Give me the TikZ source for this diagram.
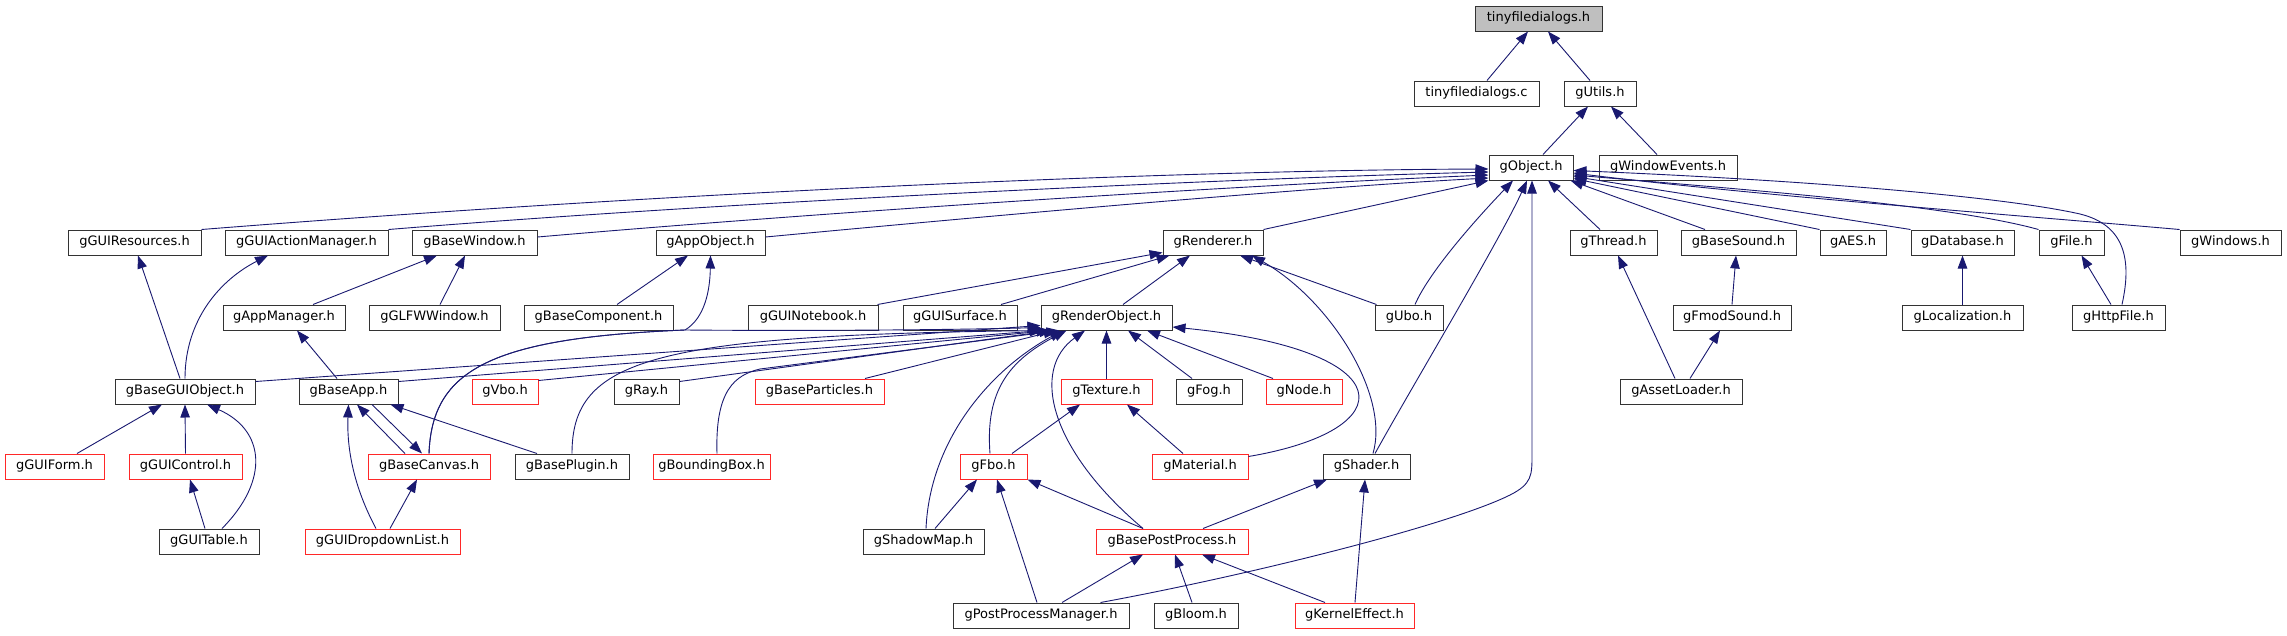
\documentclass[tikz,border=0pt]{standalone}
\usepackage{fontspec}
\setmainfont{DejaVu Sans}
\usetikzlibrary{arrows.meta,calc}
\definecolor{edgec}{RGB}{25,25,112}
\definecolor{trunc}{RGB}{255,40,40}
\begin{document}
\begin{tikzpicture}[x=1pt,y=-1pt,
  nb/.style={draw=black!80, line width=1pt, minimum height=25pt, inner sep=0pt,
             text height=9.5pt, text depth=3pt, font=\fontsize{13}{15}\selectfont},
  nr/.style={nb, draw=trunc},
  root/.style={nb, fill=black!25},
  e/.style={draw=edgec, line width=0.9pt, -{Triangle[length=13pt,width=9.5pt]}}]
\useasboundingbox (0,0) rectangle (2287,635);
% row 0-2
\node[root,minimum width=127] (tfh) at (1538.5,18.5) {tinyfiledialogs.h};
\node[nb,minimum width=125] (tfc) at (1476.5,93.5) {tinyfiledialogs.c};
\node[nb,minimum width=72] (gUtils) at (1600,93.5) {gUtils.h};
\node[nb,minimum width=84] (gObject) at (1531,167.5) {gObject.h};
\node[nb,minimum width=138] (gWE) at (1668,167.5) {gWindowEvents.h};
% row 3
\node[nb,minimum width=133] (gGUIRes) at (134.5,242.5) {gGUIResources.h};
\node[nb,minimum width=163] (gGUIAM) at (306.5,242.5) {gGUIActionManager.h};
\node[nb,minimum width=125] (gBaseWindow) at (474.5,242.5) {gBaseWindow.h};
\node[nb,minimum width=109] (gAppObject) at (710.5,242.5) {gAppObject.h};
\node[nb,minimum width=100] (gRenderer) at (1213,242.5) {gRenderer.h};
\node[nb,minimum width=87] (gThread) at (1613.5,242.5) {gThread.h};
\node[nb,minimum width=115] (gBaseSound) at (1738.5,242.5) {gBaseSound.h};
\node[nb,minimum width=66] (gAES) at (1853,242.5) {gAES.h};
\node[nb,minimum width=103] (gDatabase) at (1962.5,242.5) {gDatabase.h};
\node[nb,minimum width=65] (gFile) at (2071.5,242.5) {gFile.h};
\node[nb,minimum width=101] (gWindows) at (2230.5,242.5) {gWindows.h};
% row 4
\node[nb,minimum width=122] (gAppManager) at (284,317.5) {gAppManager.h};
\node[nb,minimum width=131] (gLFW) at (434.5,317.5) {gGLFWWindow.h};
\node[nb,minimum width=149] (gBaseComp) at (598.5,317.5) {gBaseComponent.h};
\node[nb,minimum width=130] (gGUINotebook) at (813,317.5) {gGUINotebook.h};
\node[nb,minimum width=114] (gGUISurface) at (960,317.5) {gGUISurface.h};
\node[nb,minimum width=131] (gRO) at (1106.5,317.5) {gRenderObject.h};
\node[nb,minimum width=68] (gUbo) at (1409,317.5) {gUbo.h};
\node[nb,minimum width=118] (gFmod) at (1732,317.5) {gFmodSound.h};
\node[nb,minimum width=121] (gLoc) at (1962.5,317.5) {gLocalization.h};
\node[nb,minimum width=93] (gHttp) at (2118.5,317.5) {gHttpFile.h};
% row 5
\node[nb,minimum width=140] (gBGO) at (185,391.5) {gBaseGUIObject.h};
\node[nb,minimum width=99] (gBaseApp) at (348.5,391.5) {gBaseApp.h};
\node[nr,minimum width=66] (gVbo) at (505,391.5) {gVbo.h};
\node[nb,minimum width=65] (gRay) at (646.5,391.5) {gRay.h};
\node[nr,minimum width=129] (gBPart) at (819.5,391.5) {gBaseParticles.h};
\node[nr,minimum width=91] (gTexture) at (1106.5,391.5) {gTexture.h};
\node[nb,minimum width=66] (gFog) at (1209,391.5) {gFog.h};
\node[nr,minimum width=76] (gNode) at (1304,391.5) {gNode.h};
\node[nb,minimum width=122] (gAsset) at (1681,391.5) {gAssetLoader.h};
% row 6
\node[nr,minimum width=99] (gGUIForm) at (54.5,466.5) {gGUIForm.h};
\node[nr,minimum width=113] (gGUIControl) at (185.5,466.5) {gGUIControl.h};
\node[nr,minimum width=122] (gBaseCanvas) at (429,466.5) {gBaseCanvas.h};
\node[nb,minimum width=114] (gBasePlugin) at (572,466.5) {gBasePlugin.h};
\node[nr,minimum width=117] (gBBox) at (711.5,466.5) {gBoundingBox.h};
\node[nr,minimum width=67] (gFbo) at (993.5,466.5) {gFbo.h};
\node[nr,minimum width=96] (gMaterial) at (1200,466.5) {gMaterial.h};
\node[nb,minimum width=87] (gShader) at (1366.5,466.5) {gShader.h};
% row 7
\node[nb,minimum width=100] (gGUITable) at (209,541.5) {gGUITable.h};
\node[nr,minimum width=155] (gGDL) at (382.5,541.5) {gGUIDropdownList.h};
\node[nb,minimum width=121] (gShadow) at (923.5,541.5) {gShadowMap.h};
\node[nr,minimum width=152] (gBPP) at (1172,541.5) {gBasePostProcess.h};
% row 8
\node[nb,minimum width=176] (gPPM) at (1041,615.5) {gPostProcessManager.h};
\node[nb,minimum width=84] (gBloom) at (1196,615.5) {gBloom.h};
\node[nr,minimum width=119] (gKernel) at (1354.5,615.5) {gKernelEffect.h};

% ---- edges (child -> parent, arrow at parent)
\draw[e] ($(tfc.north)+(10.5,0)$) -- ($(tfh.south)+(-10.5,0)$);
\draw[e] ($(gUtils.north)+(-10,0)$) -- ($(tfh.south)+(9.5,0)$);
\draw[e] ($(gObject.north)+(12,0)$) -- ($(gUtils.south)+(-12,0)$);
\draw[e] ($(gWE.north)+(-11,0)$) -- ($(gUtils.south)+(11,0)$);
% into gObject from the left
\draw[e] (gGUIRes.north east) .. controls (700,190) and (1200,170) .. ($(gObject.west)+(0,1.5)$);
\draw[e] (gGUIAM.north east) .. controls (750,200) and (1250,178) .. ($(gObject.west)+(0,4.5)$);
\draw[e] ($(gBaseWindow.east)+(0,-5.5)$) .. controls (850,210) and (1250,185) .. ($(gObject.west)+(0,7.5)$);
\draw[e] ($(gAppObject.east)+(0,-5.5)$) .. controls (1000,215) and (1300,188) .. ($(gObject.west)+(0,10.5)$);
\draw[e] (gRenderer.north east) -- (gObject.south west);
% into gObject from below / right
\draw[e] ($(gThread.north)+(-13.5,0)$) -- ($(gObject.south)+(17,0)$);
\draw[e] ($(gBaseSound.north)+(-33.5,0)$) -- ($(gObject.south east)+(-3,0)$);
\draw[e] (gAES.north west) -- ($(gObject.east)+(0,11)$);
\draw[e] (gDatabase.north west) -- ($(gObject.east)+(0,9)$);
\draw[e] (gFile.north west) .. controls (1950,205) and (1750,190) .. ($(gObject.east)+(0,7.5)$);
\draw[e] (gWindows.north west) .. controls (2050,218) and (1750,195) .. ($(gObject.east)+(0,5.5)$);
\draw[e] ($(gHttp.north)+(3.5,0)$) .. controls (2132,260) and (2125,225) .. (2080,214)
         .. controls (2000,196) and (1800,180) .. ($(gObject.east)+(0,3)$);
\draw[e] ($(gUbo.north)+(6,0)$) .. controls (1430,270) and (1480,215) .. ($(gObject.south)+(-18,0)$);
\draw[e] ($(gShader.north)+(8.5,0)$) .. controls (1410,390) and (1500,240) .. ($(gObject.south)+(-4,0)$);
\draw[e] ($(gPPM.north east)+(-29,0)$) .. controls (1250,575) and (1450,525) .. (1510,495)
         .. controls (1532,484) and (1532,475) .. (1532,455) -- ($(gObject.south)+(1,0)$);
% into gRenderer
\draw[e] ($(gGUINotebook.north east)+(-1,0)$) -- ($(gRenderer.south west)+(0,-3)$);
\draw[e] ($(gGUISurface.north)+(41,0)$) -- ($(gRenderer.south west)+(7,0)$);
\draw[e] ($(gRO.north)+(16.5,0)$) -- ($(gRenderer.south)+(-23,0)$);
\draw[e] ($(gUbo.north west)+(2,0)$) -- ($(gRenderer.south)+(27,0)$);
\draw[e] ($(gShader.north)+(6.5,0)$) .. controls (1390,395) and (1330,300) .. ($(gRenderer.south)+(39,0)$);
% row 3 parents on the left
\draw[e] ($(gBGO.north)+(-5,0)$) -- ($(gGUIRes.south)+(3.5,0)$);
\draw[e] (gBGO.north) .. controls (185,320) and (220,280) .. ($(gGUIAM.south)+(-38.5,0)$);
\draw[e] ($(gAppManager.north)+(29,0)$) -- ($(gBaseWindow.south)+(-37.5,0)$);
\draw[e] ($(gLFW.north)+(5.5,0)$) -- ($(gBaseWindow.south)+(-9.5,0)$);
\draw[e] ($(gBaseComp.north)+(18.5,0)$) -- ($(gAppObject.south)+(-22.5,0)$);
\draw[e] (gBaseCanvas.north) .. controls (432,370) and (490,338) .. (685,330)
         .. controls (705,318) and (710,290) .. (gAppObject.south);
\draw[e] (gBaseCanvas.north) .. controls (432,370) and (490,338) .. (685,330)
         .. controls (800,331) and (950,330) .. ($(gRO.south west)+(0,-3)$);
\draw[e] ($(gBaseApp.north)+(-11.5,0)$) -- ($(gAppManager.south)+(13,0)$);
% into gRenderObject
\draw[e] ($(gBGO.north east)+(0,3)$) -- ($(gRO.south west)+(0,-5)$);
\draw[e] ($(gBaseApp.north east)+(0,3)$) -- ($(gRO.south west)+(2,0)$);
\draw[e] ($(gVbo.north east)+(0,2)$) -- ($(gRO.south west)+(9,0)$);
\draw[e] ($(gRay.north east)+(0,3)$) -- ($(gRO.south west)+(12,0)$);
\draw[e] ($(gBPart.north)+(45.5,0)$) -- ($(gRO.south west)+(16,0)$);
\draw[e] (gBasePlugin.north) .. controls (572,360) and (650,335) .. ($(gRO.south west)+(4,0)$);
\draw[e] ($(gBBox.north)+(5.5,0)$) .. controls (715,390) and (735,375) .. (760,369) -- ($(gRO.south west)+(19,0)$);
\draw[e] ($(gShadow.north)+(2.5,0)$) .. controls (930,440) and (990,370) .. ($(gRO.south west)+(22,0)$);
\draw[e] ($(gFbo.north)+(-3.5,0)$) .. controls (985,390) and (1010,360) .. ($(gRO.south west)+(26,0)$);
\draw[e] ($(gBPP.north)+(-29,0)$) .. controls (1050,450) and (1030,370) .. ($(gRO.south)+(-21.5,0)$);
\draw[e] (gTexture.north) -- (gRO.south);
\draw[e] ($(gFog.north)+(-17,0)$) -- ($(gRO.south)+(21.5,0)$);
\draw[e] ($(gNode.north)+(-31,0)$) -- ($(gRO.south)+(40.5,0)$);
\draw[e] ($(gMaterial.north east)+(0,3)$) .. controls (1405,430) and (1405,350) .. ($(gRO.east)+(0,9.5)$);
% into gTexture
\draw[e] ($(gFbo.north)+(18.5,0)$) -- ($(gTexture.south)+(-26.5,0)$);
\draw[e] ($(gMaterial.north)+(-17,0)$) -- ($(gTexture.south)+(20.5,0)$);
% into gFbo
\draw[e] ($(gShadow.north)+(11.5,0)$) -- ($(gFbo.south)+(-16.5,0)$);
\draw[e] ($(gBPP.north)+(-29,0)$) -- (gFbo.south east);
\draw[e] ($(gPPM.north)+(-4,0)$) -- ($(gFbo.south)+(3.5,0)$);
% into gShader
\draw[e] ($(gBPP.north)+(31,0)$) -- ($(gShader.south)+(-39.5,0)$);
\draw[e] ($(gKernel.north)+(0.5,0)$) -- ($(gShader.south)+(-1.5,0)$);
% into gBasePostProcess
\draw[e] ($(gPPM.north)+(21,0)$) -- ($(gBPP.south)+(-29,0)$);
\draw[e] ($(gBloom.north)+(-4,0)$) -- ($(gBPP.south)+(3,0)$);
\draw[e] ($(gKernel.north)+(-29.5,0)$) -- ($(gBPP.south)+(30,0)$);
% into gBaseGUIObject
\draw[e] ($(gGUIForm.north)+(22.5,0)$) -- ($(gBGO.south)+(-23,0)$);
\draw[e] (gGUIControl.north) -- (gBGO.south);
\draw[e] ($(gGUITable.north)+(13,0)$) .. controls (270,480) and (265,430) .. ($(gBGO.south)+(22,0)$);
\draw[e] ($(gGUITable.north)+(-4,0)$) -- ($(gGUIControl.south)+(4.5,0)$);
% gBaseApp / gBaseCanvas
\draw[e] ($(gGDL.north)+(-6.5,0)$) .. controls (350,480) and (347,440) .. (gBaseApp.south);
\draw[e] ($(gBaseCanvas.north)+(-24,0)$) -- ($(gBaseApp.south)+(8.5,0)$);
\draw[e] ($(gBaseApp.south)+(23.5,0)$) -- ($(gBaseCanvas.north)+(-7,0)$);
\draw[e] ($(gBasePlugin.north)+(-35,0)$) -- ($(gBaseApp.south east)+(-8,0)$);
\draw[e] ($(gGDL.north)+(7.5,0)$) -- ($(gBaseCanvas.south)+(-12,0)$);
% right group
\draw[e] ($(gAsset.north)+(-6,0)$) -- ($(gThread.south)+(4.5,0)$);
\draw[e] ($(gAsset.north)+(9,0)$) -- ($(gFmod.south)+(-12,0)$);
\draw[e] (gFmod.north) -- ($(gBaseSound.south)+(-2.5,0)$);
\draw[e] (gLoc.north) -- (gDatabase.south);
\draw[e] ($(gHttp.north)+(-7.5,0)$) -- ($(gFile.south)+(10,0)$);
\end{tikzpicture}
\end{document}
